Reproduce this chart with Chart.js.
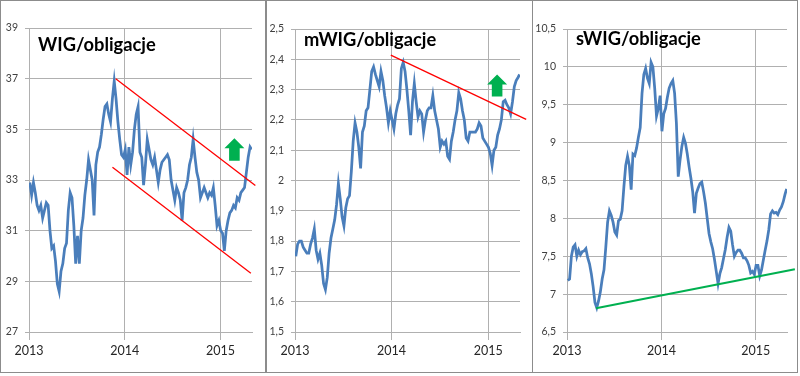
<!DOCTYPE html>
<html><head><meta charset="utf-8">
<script src="https://cdn.jsdelivr.net/npm/chart.js@4/dist/chart.umd.min.js"></script>
<style>
html,body{margin:0;padding:0;background:#fff;}
#wrap{position:relative;width:800px;height:376px;overflow:hidden;background:#fff;}
canvas{position:absolute;top:0;}
.frame{position:absolute;top:0;height:373px;box-sizing:border-box;border:1px solid #8c8c8c;pointer-events:none;}
.ttl{position:absolute;font-family:Lato,'Open Sans',sans-serif;font-weight:bold;font-size:18.3px;line-height:19px;color:#000;white-space:nowrap;}
</style></head><body>
<div id="wrap">
  <canvas id="c1" width="266" height="373" style="left:0px"></canvas>
  <canvas id="c2" width="268" height="373" style="left:265px"></canvas>
  <canvas id="c3" width="266" height="373" style="left:532px"></canvas>
  <div class="frame" style="left:0px;width:267px"></div>
  <div class="frame" style="left:265px;width:268px"></div>
  <div class="frame" style="left:532px;width:266px"></div>
  <div class="ttl" style="left:38px;top:35px">WIG/obligacje</div>
  <div class="ttl" style="left:304px;top:30px">mWIG/obligacje</div>
  <div class="ttl" style="left:576px;top:29px">sWIG/obligacje</div>
</div>
<script>
// ---------- data ----------
const weeks = [
'2013-01-04','2013-01-11','2013-01-18','2013-01-25','2013-02-01','2013-02-08','2013-02-15','2013-02-22','2013-03-01','2013-03-08',
'2013-03-15','2013-03-22','2013-03-29','2013-04-05','2013-04-12','2013-04-19','2013-04-26','2013-05-03','2013-05-10','2013-05-17',
'2013-05-24','2013-05-31','2013-06-07','2013-06-14','2013-06-21','2013-06-28','2013-07-05','2013-07-12','2013-07-19','2013-07-26',
'2013-08-02','2013-08-09','2013-08-16','2013-08-23','2013-08-30','2013-09-06','2013-09-13','2013-09-20','2013-09-27','2013-10-04',
'2013-10-11','2013-10-18','2013-10-25','2013-11-01','2013-11-08','2013-11-15','2013-11-22','2013-11-29','2013-12-06','2013-12-13',
'2013-12-20','2013-12-27',
'2014-01-03','2014-01-10','2014-01-17','2014-01-24','2014-01-31','2014-02-07','2014-02-14','2014-02-21','2014-02-28','2014-03-07',
'2014-03-14','2014-03-21','2014-03-28','2014-04-04','2014-04-11','2014-04-18','2014-04-25','2014-05-02','2014-05-09','2014-05-16',
'2014-05-23','2014-05-30','2014-06-06','2014-06-13','2014-06-20','2014-06-27','2014-07-04','2014-07-11','2014-07-18','2014-07-25',
'2014-08-01','2014-08-08','2014-08-15','2014-08-22','2014-08-29','2014-09-05','2014-09-12','2014-09-19','2014-09-26','2014-10-03',
'2014-10-10','2014-10-17','2014-10-24','2014-10-31','2014-11-07','2014-11-14','2014-11-21','2014-11-28','2014-12-05','2014-12-12',
'2014-12-19','2014-12-26',
'2015-01-02','2015-01-09','2015-01-16','2015-01-23','2015-01-30','2015-02-06','2015-02-13','2015-02-20','2015-02-27','2015-03-06',
'2015-03-13','2015-03-20','2015-03-27','2015-04-03','2015-04-10','2015-04-17','2015-04-24','2015-04-30'
];

const wigValues = [
32.9,32.4,32.9,32.5,32.0,31.8,32.0,31.5,31.8,32.1,
32.0,31.0,30.3,30.4,29.8,28.9,28.6,29.4,29.7,30.3,
30.5,31.8,32.5,32.3,31.2,29.7,30.8,29.7,31.0,31.5,
32.4,33.0,33.8,33.4,33.0,31.6,33.6,34.1,34.3,34.8,
35.4,35.9,36.0,35.6,35.3,36.2,36.9,36.2,35.3,34.6,
34.0,33.9,34.2,33.2,34.3,33.6,34.1,35.0,35.6,35.9,
34.1,33.9,32.8,33.6,34.6,34.2,33.8,33.6,33.9,33.4,
32.9,33.4,33.7,33.8,33.9,34.0,33.8,33.0,32.6,32.2,
32.7,32.5,32.2,31.4,32.5,32.7,33.0,33.6,33.9,34.6,
33.9,33.3,33.0,32.3,32.5,32.7,32.5,32.3,32.5,32.4,
32.7,32.0,31.2,31.4,31.0,30.9,30.2,31.0,31.4,31.7,
31.8,32.0,31.9,32.3,32.2,32.5,32.6,32.7,33.3,33.9,
34.3,34.2
];

const mwigValues = [
1.75,1.79,1.80,1.80,1.78,1.77,1.76,1.76,1.79,1.81,
1.84,1.77,1.74,1.76,1.72,1.66,1.64,1.68,1.76,1.81,
1.84,1.87,1.92,1.99,1.94,1.88,1.85,1.91,1.94,1.95,
2.03,2.13,2.19,2.16,2.11,2.04,2.16,2.18,2.23,2.24,
2.30,2.36,2.375,2.35,2.33,2.31,2.36,2.33,2.28,2.24,
2.19,2.23,2.20,2.17,2.22,2.25,2.27,2.37,2.39,2.36,
2.30,2.23,2.15,2.26,2.32,2.26,2.21,2.23,2.22,2.16,
2.20,2.23,2.24,2.24,2.28,2.23,2.20,2.17,2.11,2.13,
2.12,2.13,2.08,2.07,2.13,2.16,2.20,2.23,2.29,2.27,
2.23,2.20,2.14,2.13,2.16,2.16,2.16,2.16,2.17,2.19,
2.18,2.14,2.13,2.12,2.11,2.09,2.05,2.10,2.11,2.15,
2.17,2.20,2.26,2.265,2.25,2.24,2.22,2.26,2.31,2.33,
2.34,2.35
];

const swigValues = [
7.18,7.20,7.50,7.62,7.65,7.50,7.58,7.52,7.56,7.57,
7.60,7.48,7.40,7.27,7.10,6.89,6.82,6.91,7.03,7.20,
7.32,7.62,7.95,8.10,8.04,7.95,7.82,7.78,7.97,7.99,
8.10,8.42,8.70,8.82,8.70,8.38,8.85,8.83,8.93,9.07,
9.20,9.65,9.90,9.98,9.85,9.78,10.06,10.00,9.72,9.35,
9.45,9.62,9.15,9.38,9.45,9.60,9.72,9.78,9.82,9.65,
9.25,8.55,8.77,8.95,9.07,8.99,8.85,8.68,8.53,8.35,
8.07,8.33,8.40,8.46,8.48,8.35,8.20,8.00,7.80,7.69,
7.60,7.46,7.30,7.14,7.27,7.35,7.47,7.59,7.75,7.88,
7.83,7.65,7.50,7.55,7.58,7.58,7.54,7.48,7.48,7.44,
7.38,7.28,7.30,7.26,7.38,7.38,7.24,7.32,7.45,7.58,
7.70,7.85,8.06,8.10,8.07,8.08,8.05,8.11,8.15,8.22,
8.32,8.39
];

// trend lines: [decimal year, value]
const wigTopLine    = [[2013.906, 37.00], [2015.365, 32.78]];
const wigBottomLine = [[2013.872, 33.50], [2015.318, 29.32]];
const mwigLine      = [[2013.992, 2.414], [2015.394, 2.202]];
const swigLine      = [[2013.307, 6.813], [2015.413, 7.328]];
// arrows: [decimal year, bottom value, top value]
const wigArrow  = [2015.146, 33.76, 34.65];
const mwigArrow = [2015.093, 2.277, 2.350];

const yearTicks = [2013, 2014, 2015];
const wigTicks  = [27, 29, 31, 33, 35, 37, 39];
const mwigTicks = [1.5, 1.6, 1.7, 1.8, 1.9, 2.0, 2.1, 2.2, 2.3, 2.4, 2.5];
const swigTicks = [6.5, 7, 7.5, 8, 8.5, 9, 9.5, 10, 10.5];
const xMin = 2013, xMax = 2015.33;

// ---------- helpers ----------
function toYear(s){
  const p = s.split('-').map(Number);
  const t = Date.UTC(p[0], p[1]-1, p[2]), t0 = Date.UTC(p[0],0,1), t1 = Date.UTC(p[0]+1,0,1);
  return p[0] + (t - t0)/(t1 - t0);
}
const fmt = v => String(Number(v.toFixed(2))).replace('.', ',');
const GRID = '#b0b0b0';

const arrowPlugin = {
  id: 'upArrow',
  afterDatasetsDraw(chart) {
    const a = chart.options.plugins.upArrow && chart.options.plugins.upArrow.at;
    if (!a) return;
    const xs = chart.scales.x, ys = chart.scales.y, ctx = chart.ctx;
    const cx = xs.getPixelForValue(a[0]), yb = ys.getPixelForValue(a[1]), yt = ys.getPixelForValue(a[2]);
    const hw = 10, sw = 5.3, hh = (yb - yt) * 0.45;
    ctx.save();
    ctx.fillStyle = '#00b050';
    ctx.beginPath();
    ctx.moveTo(cx, yt);
    ctx.lineTo(cx + hw, yt + hh);
    ctx.lineTo(cx + sw, yt + hh);
    ctx.lineTo(cx + sw, yb);
    ctx.lineTo(cx - sw, yb);
    ctx.lineTo(cx - sw, yt + hh);
    ctx.lineTo(cx - hw, yt + hh);
    ctx.closePath();
    ctx.fill();
    ctx.restore();
  }
};

function makeChart(id, values, lines, lineColor, lineWidth, yMin, yMax, yTicks, yWidth, padTop, padRight, arrow) {
  const datasets = [{
    data: values.map((v, i) => ({x: toYear(weeks[i]), y: v})),
    borderColor: '#4a7ebb', borderWidth: 2.75, pointRadius: 0, tension: 0, fill: false, order: 2
  }];
  lines.forEach(l => datasets.push({
    data: l.map(p => ({x: p[0], y: p[1]})),
    borderColor: lineColor, borderWidth: lineWidth, pointRadius: 0, fill: false, clip: false, order: 1
  }));
  return new Chart(document.getElementById(id), {
    type: 'line',
    data: {datasets},
    plugins: [arrowPlugin],
    options: {
      responsive: false, animation: false, devicePixelRatio: 1, events: [],
      layout: {padding: {top: padTop, right: padRight, left: 0, bottom: 0}},
      plugins: {legend: {display: false}, tooltip: {enabled: false}, upArrow: {at: arrow}},
      scales: {
        x: {
          type: 'linear', min: xMin, max: xMax,
          afterBuildTicks: s => { s.ticks = yearTicks.map(v => ({value: v})); },
          afterFit: s => { s.height = 41; },
          grid: {color: GRID, lineWidth: 1, tickLength: 8},
          border: {color: GRID},
          ticks: {callback: v => String(v), autoSkip: false, maxRotation: 0, padding: 3,
                  color: '#262626', font: {family: 'Lato', size: 12.5}}
        },
        y: {
          min: yMin, max: yMax,
          afterBuildTicks: s => { s.ticks = yTicks.map(v => ({value: v})); },
          afterFit: s => { s.width = yWidth; },
          grid: {color: GRID, lineWidth: 1, tickLength: 4},
          border: {color: GRID},
          ticks: {callback: v => fmt(v), padding: 7, color: '#404040', font: {family: 'Lato', size: 10.5}}
        }
      }
    }
  });
}

makeChart('c1', wigValues, [wigTopLine, wigBottomLine], '#ff0000', 1.3, 27, 39, wigTicks, 29, 28, 14, wigArrow);
makeChart('c2', mwigValues, [mwigLine], '#ff0000', 1.3, 1.5, 2.5, mwigTicks, 30, 29, 13, mwigArrow);
makeChart('c3', swigValues, [swigLine], '#00b050', 2, 6.5, 10.5, swigTicks, 35, 29, 11, null);
</script>
</body></html>
